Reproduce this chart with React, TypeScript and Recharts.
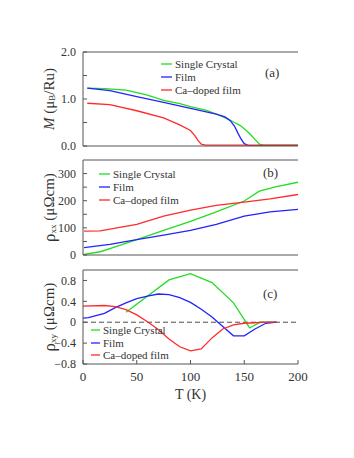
import React from "react";
import { LineChart, Line, XAxis, YAxis, ReferenceLine } from "recharts";

// shared temperature axis
const tempTicks = [0, 50, 100, 150, 200];

// (a) magnetisation M (μB/Ru)
const mCrystalT = [4, 20, 40, 60, 75, 90, 100, 115, 125, 135, 140, 146, 152, 156, 160, 164, 168, 180, 200];
const mCrystal = [1.23, 1.22, 1.19, 1.08, 0.97, 0.9, 0.84, 0.76, 0.67, 0.57, 0.51, 0.44, 0.33, 0.24, 0.14, 0.04, 0.02, 0.02, 0.02];
const mFilmT = [4, 25, 50, 75, 100, 124, 132, 137, 141, 144, 147, 150, 154, 170, 200];
const mFilm = [1.23, 1.18, 1.05, 0.93, 0.8, 0.68, 0.62, 0.54, 0.42, 0.28, 0.15, 0.05, 0.01, 0.01, 0.01];
const mCaT = [4, 25, 50, 75, 90, 100, 104, 107, 110, 114, 130, 160, 200];
const mCa = [0.91, 0.88, 0.75, 0.6, 0.45, 0.33, 0.22, 0.12, 0.04, 0.02, 0.02, 0.02, 0.02];
const mTicks = [0, 0.5, 1, 1.5, 2];
const mLabels = ["0.0", "", "1.0", "", "2.0"];

// (b) longitudinal resistivity ρxx (μΩcm)
const rxxCrystalT = [1, 16, 30, 50, 75, 100, 124, 150, 164, 180, 200];
const rxxCrystal = [2, 12, 30, 57, 91, 124, 159, 199, 235, 252, 268];
const rxxFilmT = [1, 25, 50, 75, 100, 124, 150, 174, 200];
const rxxFilm = [27, 39, 57, 73, 91, 113, 143, 159, 168];
const rxxCaT = [1, 16, 50, 75, 100, 124, 150, 174, 200];
const rxxCa = [88, 89, 113, 143, 165, 183, 195, 207, 223];
const rxxTicks = [0, 50, 100, 150, 200, 250, 300];
const rxxLabels = ["0", "", "100", "", "200", "", "300"];

// (c) Hall resistivity ρxy (μΩcm)
const rxyCrystalT = [40, 80, 100, 120, 140, 155, 165, 180];
const rxyCrystal = [0.19, 0.81, 0.93, 0.76, 0.37, -0.11, 0, 0];
const rxyFilmT = [0, 5, 20, 30, 40, 50, 60, 70, 80, 90, 100, 110, 120, 130, 140, 150, 160, 170, 180];
const rxyFilm = [0.08, 0.09, 0.17, 0.28, 0.37, 0.45, 0.5, 0.54, 0.53, 0.47, 0.38, 0.25, 0.1, -0.08, -0.26, -0.26, -0.13, -0.02, 0];
const rxyCaT = [0, 20, 30, 40, 50, 60, 70, 80, 90, 100, 110, 120, 130, 140, 150, 160, 170, 180];
const rxyCa = [0.31, 0.32, 0.3, 0.24, 0.14, 0.01, -0.14, -0.32, -0.47, -0.55, -0.51, -0.3, -0.13, -0.05, -0.02, -0.01, 0, 0];
const rxyTicks = [-0.8, -0.4, 0, 0.4, 0.8];
const rxyLabels = ["\u22120.8", "\u22120.4", "0", "0.4", "0.8"];

const seriesNames = ["Single Crystal", "Film", "Ca\u2013doped film"];
const GREEN = "#22dd22";
const BLUE = "#2222ff";
const RED = "#ff2a2a";
const colors = [GREEN, BLUE, RED];

const FONT = "'Liberation Serif', 'DejaVu Serif', serif";
const AXIS = "#555";
const TEXT = "#333";

const pts = (ts: number[], vs: number[]) => ts.map((t, i) => ({ t, v: vs[i] }));

function LegendBox({ left, top, rowGap, lineLen }: any) {
  return (
    <div style={{ position: "absolute", left, top, fontFamily: FONT, fontSize: 11, color: TEXT }}>
      {seriesNames.map((name, i) => (
        <div key={name} style={{ display: "flex", alignItems: "center", height: rowGap }}>
          <svg width={lineLen} height={4} style={{ marginRight: 3 }}>
            <line x1={0} y1={2} x2={lineLen} y2={2} stroke={colors[i]} strokeWidth={1.3} />
          </svg>
          <span>{name}</span>
        </div>
      ))}
    </div>
  );
}

function Panel({ top, height, plotTop, plotBottom, domain, ticks, labels, yLabel, series, showX, zero }: any) {
  const bottomAxisH = showX ? 44 : 1;
  const margin = { top: plotTop - top - 1, bottom: top + height - plotBottom - bottomAxisH, left: 0, right: 55 };
  const fmt = (v: number) => labels[ticks.indexOf(v)] ?? "";
  return (
    <div style={{ position: "absolute", left: 0, top }}>
      <LineChart width={354} height={height} margin={margin}>
        <XAxis
          xAxisId="bottom"
          dataKey="t"
          type="number"
          domain={[0, 200]}
          ticks={tempTicks}
          interval={0}
          height={bottomAxisH}
          tickSize={-4}
          tickMargin={showX ? 12 : 0}
          tick={showX ? { fontFamily: FONT, fontSize: 13, fill: TEXT } : false}
          stroke={AXIS}
          allowDataOverflow
          label={
            showX
              ? { value: "T (K)", position: "insideBottom", offset: 9, style: { fontFamily: FONT, fontSize: 14, fill: TEXT } }
              : undefined
          }
        />
        <XAxis
          xAxisId="top"
          orientation="top"
          dataKey="t"
          type="number"
          domain={[0, 200]}
          ticks={tempTicks}
          interval={0}
          height={1}
          tickSize={-4}
          tickFormatter={() => ""}
          stroke={AXIS}
        />
        <YAxis
          yAxisId="left"
          type="number"
          domain={domain}
          ticks={ticks}
          interval={0}
          width={83}
          tickSize={-4}
          tickMargin={11}
          tickFormatter={fmt}
          tick={{ fontFamily: FONT, fontSize: 12, fill: TEXT }}
          stroke={AXIS}
          allowDataOverflow
          label={{
            content: (p: any) => {
              const vb = p.viewBox || {};
              const cx = 49;
              const cy = vb.y + vb.height / 2;
              return (
                <text
                  x={cx}
                  y={cy}
                  transform={`rotate(-90 ${cx} ${cy})`}
                  textAnchor="middle"
                  dominantBaseline="central"
                  fontFamily={FONT}
                  fontSize={15}
                  fill={TEXT}
                >
                  {yLabel}
                </text>
              );
            },
          }}
        />
        <YAxis
          yAxisId="right"
          orientation="right"
          type="number"
          domain={domain}
          ticks={ticks}
          interval={0}
          width={1}
          tickSize={-4}
          tickFormatter={() => ""}
          axisLine={false}
          stroke={AXIS}
        />
        {zero && (
          <ReferenceLine xAxisId="bottom" yAxisId="left" y={0} stroke="#222" strokeDasharray="5 3" strokeWidth={0.8} />
        )}
        {series.map((s: any, i: number) => (
          <Line
            key={i}
            xAxisId="bottom"
            yAxisId="left"
            data={s}
            dataKey="v"
            type="linear"
            stroke={colors[i]}
            strokeWidth={1.3}
            dot={false}
            isAnimationActive={false}
          />
        ))}
      </LineChart>
    </div>
  );
}

const tagStyle = (left: number, top: number): React.CSSProperties => ({
  position: "absolute",
  left,
  top,
  fontFamily: FONT,
  fontSize: 13,
  color: TEXT,
});

export default function App() {
  const labelA = (
    <>
      <tspan fontStyle="italic">M</tspan>
      <tspan> (μ</tspan>
      <tspan dy={3} fontSize={9}>B</tspan>
      <tspan dy={-3}>/Ru)</tspan>
    </>
  );
  const labelB = (
    <>
      <tspan fontSize={17}>ρ</tspan>
      <tspan dy={4} fontSize={9}>xx</tspan>
      <tspan dy={-4}>{"  (μΩcm)"}</tspan>
    </>
  );
  const labelC = (
    <>
      <tspan fontSize={17}>ρ</tspan>
      <tspan dy={4} fontSize={9}>xy</tspan>
      <tspan dy={-4}>{"  (μΩcm)"}</tspan>
    </>
  );

  return (
    <div style={{ position: "absolute", left: 0, top: 0, width: 354, height: 458, background: "#fff" }}>
      <Panel
        top={40}
        height={122}
        plotTop={52}
        plotBottom={146}
        domain={[0, 2]}
        ticks={mTicks}
        labels={mLabels}
        yLabel={labelA}
        series={[pts(mCrystalT, mCrystal), pts(mFilmT, mFilm), pts(mCaT, mCa)]}
      />
      <Panel
        top={150}
        height={118}
        plotTop={160}
        plotBottom={255}
        domain={[0, 350]}
        ticks={rxxTicks}
        labels={rxxLabels}
        yLabel={labelB}
        series={[pts(rxxCrystalT, rxxCrystal), pts(rxxFilmT, rxxFilm), pts(rxxCaT, rxxCa)]}
      />
      <Panel
        top={262}
        height={150}
        plotTop={270}
        plotBottom={364}
        domain={[-0.8, 1.0]}
        ticks={rxyTicks}
        labels={rxyLabels}
        yLabel={labelC}
        series={[pts(rxyCrystalT, rxyCrystal), pts(rxyFilmT, rxyFilm), pts(rxyCaT, rxyCa)]}
        showX
        zero
      />

      <LegendBox left={161} top={57} rowGap={13} lineLen={11} />
      <LegendBox left={99} top={167} rowGap={13} lineLen={11} />
      <LegendBox left={91} top={324} rowGap={12.5} lineLen={9} />

      <div style={tagStyle(265, 65)}>(a)</div>
      <div style={tagStyle(263, 165)}>(b)</div>
      <div style={tagStyle(263, 286)}>(c)</div>
    </div>
  );
}
